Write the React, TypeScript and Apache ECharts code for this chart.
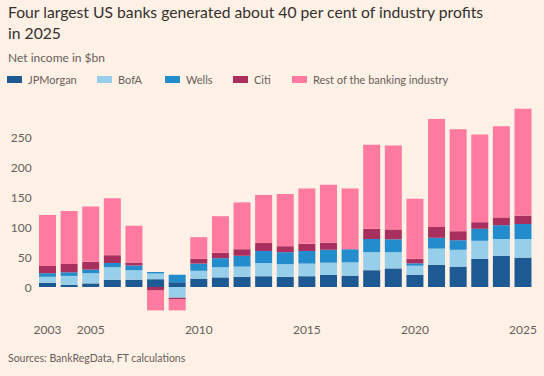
import React, { useEffect, useRef } from "react";
import * as echarts from "echarts";

const years = ["2003","2004","2005","2006","2007","2008","2009","2010","2011","2012","2013","2014","2015","2016","2017","2018","2019","2020","2021","2022","2023","2024","2025"];
const shownYears = ["2003", "2005", "2010", "2015", "2020", "2025"];
const jpmorgan = [7, 3.5, 6, 12, 12, 13, 8, 14, 16, 17, 18, 17, 18, 20, 19, 28, 31, 20.5, 37, 34, 47, 52, 49];
const bofa = [10, 15, 17, 21, 16, 9.5, -18, 13, 17, 17, 22, 21, 21, 20.5, 22, 30, 27, 15, 27, 28, 30, 28, 31];
const wells = [6, 6, 6, 7, 8, 2.5, 12.5, 12, 15, 18, 20, 20, 21, 21.5, 22, 22, 21.5, 4, 18, 16, 20, 23, 25];
const citi = [12, 14, 13, 13, 5, -6, -2, 8, 9, 11, 13.5, 10, 12, 12, 0, 17, 16.5, 7.5, 18, 15, 11, 13, 14];
const rest = [85, 88, 92, 95, 61, -33, -19, 36, 61, 78, 80, 87, 92, 96.5, 101, 140, 140, 100, 180, 170, 146, 152, 178];
const yTicks = [0, 50, 100, 150, 200, 250];

const seriesDefs = [
  { name: "JPMorgan", data: jpmorgan, color: "#1d5a93" },
  { name: "BofA", data: bofa, color: "#97cfea" },
  { name: "Wells", data: wells, color: "#238ccc" },
  { name: "Citi", data: citi, color: "#a9305e" },
  { name: "Rest of the banking industry", data: rest, color: "#fe7aa1" },
];
const legendLefts = [2, 92, 160, 228, 287];

const FONT = "Lato, 'Noto Sans', sans-serif";

export default function App() {
  const ref = useRef<HTMLDivElement>(null);
  useEffect(() => {
    document.body.style.margin = "0";
    if (!ref.current) return;
    const chart = echarts.init(ref.current, null, { renderer: "svg" });
    chart.setOption({
      animation: false,
      backgroundColor: "#fff1e5",
      textStyle: { fontFamily: FONT },
      title: [
        {
          text: "Four largest US banks generated about 40 per cent of industry profits\nin 2025",
          left: 3,
          top: -4,
          textStyle: { fontSize: 15.7, fontWeight: "normal", color: "#33302e", lineHeight: 21, fontFamily: FONT },
        },
        {
          text: "Net income in $bn",
          left: 3,
          top: 45,
          textStyle: { fontSize: 12, fontWeight: "normal", color: "#66605c", lineHeight: 15, fontFamily: FONT },
        },
        {
          text: "Sources: BankRegData, FT calculations",
          left: 3,
          top: 346,
          textStyle: { fontSize: 10.5, fontWeight: "normal", color: "#66605c", lineHeight: 14, fontFamily: FONT },
        },
      ],
      legend: seriesDefs.map((s, i) => ({
        data: [s.name],
        left: legendLefts[i],
        top: 69,
        itemWidth: 15,
        itemHeight: 7,
        itemGap: 0,
        icon: "rect",
        selectedMode: false,
        textStyle: { fontSize: 11, color: "#66605c", fontFamily: FONT, padding: [0, 0, 0, 1] },
      })),
      grid: { left: 36.7, right: 10.2, top: 107, bottom: 59, containLabel: false },
      xAxis: {
        type: "category",
        data: years,
        axisLine: { show: false },
        axisTick: { show: false },
        axisLabel: {
          interval: (_i: number, v: string) => shownYears.includes(v),
          margin: 6,
          fontSize: 12,
          color: "#66605c",
          fontFamily: FONT,
        },
      },
      yAxis: {
        type: "value",
        min: -50,
        max: 300,
        interval: 50,
        splitLine: { show: false },
        axisLine: { show: false },
        axisTick: { show: false },
        axisLabel: {
          margin: 5,
          fontSize: 12,
          color: "#66605c",
          fontFamily: FONT,
          formatter: (v: number) => (yTicks.includes(v) ? String(v) : ""),
        },
      },
      series: seriesDefs.map((s) => ({
        name: s.name,
        type: "bar",
        stack: "total",
        barWidth: 17,
        data: s.data,
        itemStyle: { color: s.color },
      })),
    });
    return () => chart.dispose();
  }, []);
  return <div ref={ref} style={{ width: 544, height: 376 }} />;
}
